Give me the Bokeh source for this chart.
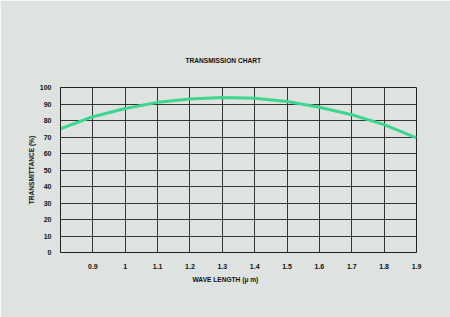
from bokeh.plotting import figure
from bokeh.embed import file_html
from bokeh.resources import INLINE
from bokeh.models import FixedTicker, Range1d, Title

wavelength = [0.8, 0.9, 1.0, 1.1, 1.2, 1.3, 1.4, 1.5, 1.6, 1.7, 1.8, 1.9]
transmittance = [75.0, 82.3, 87.3, 91.0, 93.0, 94.0, 93.5, 91.5, 88.0, 83.5, 77.5, 69.5]
x_ticks = [0.8, 0.9, 1.0, 1.1, 1.2, 1.3, 1.4, 1.5, 1.6, 1.7, 1.8, 1.9]
x_tick_labels = {0.8: "", 0.9: "0.9", 1.0: "1", 1.1: "1.1", 1.2: "1.2", 1.3: "1.3", 1.4: "1.4",
                 1.5: "1.5", 1.6: "1.6", 1.7: "1.7", 1.8: "1.8", 1.9: "1.9"}
y_ticks = [0, 10, 20, 30, 40, 50, 60, 70, 80, 90, 100]

BG = "#dee2e0"
FONT = "Liberation Sans"

p = figure(width=450, height=317, output_backend="svg", toolbar_location=None,
           x_range=Range1d(0.8, 1.9), y_range=Range1d(0, 100),
           min_border_left=60, min_border_right=34, min_border_top=87, min_border_bottom=65,
           title="TRANSMISSION CHART")
p.background_fill_color = BG
p.border_fill_color = BG
p.outline_line_color = "#222222"
p.outline_line_width = 1

p.title.align = "left"
p.title.text_font = FONT
p.title.text_font_size = "6.6px"
p.title.text_font_style = "bold"
p.title.text_color = "#111111"
p.title.standoff = 48
p.title.offset = 125

p.xaxis.ticker = FixedTicker(ticks=x_ticks)
p.xaxis.major_label_overrides = x_tick_labels
p.yaxis.ticker = FixedTicker(ticks=y_ticks)

for ax in (p.xaxis, p.yaxis):
    ax.axis_line_color = "#222222"
    ax.major_tick_line_color = None
    ax.minor_tick_line_color = None
    ax.major_label_text_font = FONT
    ax.major_label_text_font_size = "7px"
    ax.major_label_text_font_style = "bold"
    ax.major_label_text_color = "#111111"
    ax.axis_label_text_font = FONT
    ax.axis_label_text_font_size = "6.6px"
    ax.axis_label_text_font_style = "bold"
    ax.axis_label_text_color = "#111111"

p.yaxis.axis_label = "TRANSMITTANCE (%)"
p.xaxis.major_label_standoff = 5
p.yaxis.major_label_standoff = 3
p.yaxis.axis_label_standoff = 2

xlabel = Title(text="WAVE LENGTH (\u03bc m)", align="left", offset=132,
               text_font=FONT, text_font_size="6.6px", text_font_style="bold",
               text_color="#111111", standoff=4)
p.add_layout(xlabel, "below")

p.xgrid.ticker = FixedTicker(ticks=x_ticks)
p.ygrid.ticker = FixedTicker(ticks=y_ticks)
p.grid.grid_line_color = "#222222"
p.grid.grid_line_width = 1
p.grid.grid_line_alpha = 0.9

p.line(wavelength, transmittance, line_color="#3ed68e", line_width=3)

open("out.html", "w").write(file_html(p, INLINE))
